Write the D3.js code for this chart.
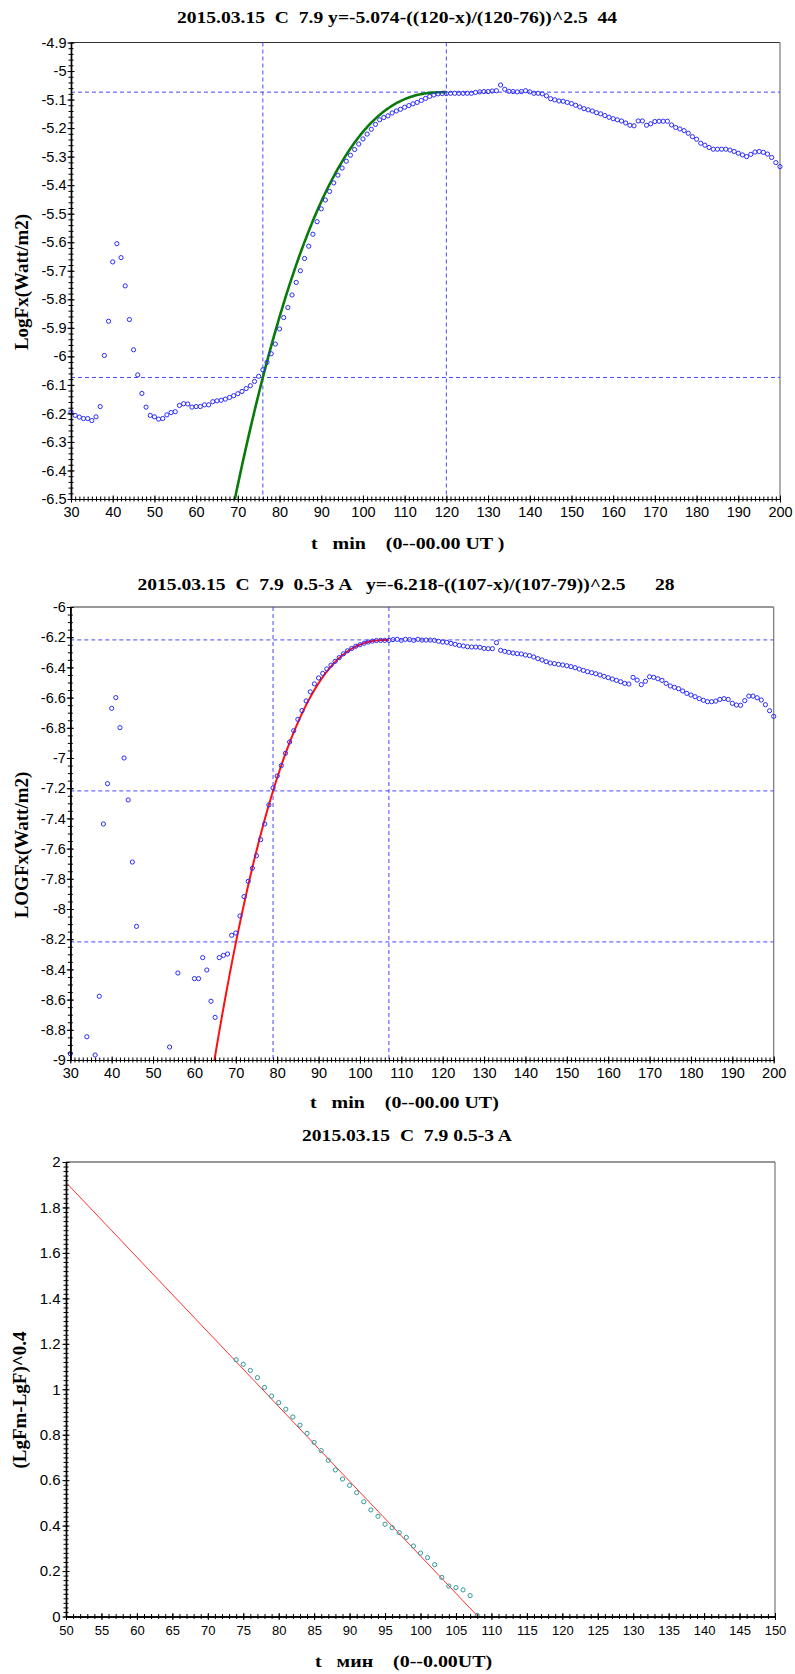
<!DOCTYPE html>
<html><head><meta charset="utf-8">
<script src="https://cdn.jsdelivr.net/npm/d3@7"></script>
<style>
body{margin:0;background:#fff;}
svg{display:block;}
text{white-space:pre;}
</style></head><body>
<svg id="c" width="795" height="1674"></svg>
<script>
// ---------- Panel 1 data ----------
const p1Title = "2015.03.15  C  7.9 y=-5.074-((120-x)/(120-76))^2.5  44";
const p1XLabel = "t   min    (0--00.00 UT )";
const p1YLabel = "LogFx(Watt/m2)";
const p1Start = 30;
const p1Values = [
-6.195,-6.207,-6.213,-6.218,-6.218,-6.225,-6.212,-6.176,-5.997,-5.877,
-5.669,-5.605,-5.654,-5.753,-5.871,-5.977,-6.065,-6.130,-6.178,-6.207,
-6.212,-6.220,-6.218,-6.205,-6.197,-6.194,-6.172,-6.166,-6.167,-6.178,
-6.176,-6.176,-6.170,-6.170,-6.159,-6.156,-6.154,-6.150,-6.144,-6.138,
-6.131,-6.123,-6.113,-6.103,-6.088,-6.070,-6.047,-6.021,-5.991,-5.957,
-5.904,-5.864,-5.829,-5.785,-5.741,-5.700,-5.657,-5.614,-5.572,-5.528,
-5.483,-5.452,-5.422,-5.392,-5.365,-5.340,-5.316,-5.295,-5.275,-5.256,
-5.238,-5.221,-5.204,-5.187,-5.171,-5.163,-5.157,-5.147,-5.140,-5.134,
-5.127,-5.121,-5.115,-5.110,-5.103,-5.096,-5.089,-5.084,-5.080,-5.079,
-5.079,-5.078,-5.078,-5.078,-5.078,-5.078,-5.078,-5.075,-5.073,-5.072,
-5.072,-5.070,-5.069,-5.049,-5.064,-5.071,-5.072,-5.073,-5.072,-5.069,
-5.073,-5.078,-5.078,-5.080,-5.087,-5.097,-5.101,-5.105,-5.106,-5.110,
-5.114,-5.120,-5.126,-5.132,-5.136,-5.140,-5.146,-5.150,-5.156,-5.162,
-5.167,-5.171,-5.175,-5.182,-5.190,-5.192,-5.175,-5.175,-5.190,-5.185,
-5.177,-5.176,-5.176,-5.176,-5.189,-5.198,-5.203,-5.209,-5.218,-5.230,
-5.239,-5.253,-5.260,-5.268,-5.274,-5.274,-5.274,-5.274,-5.277,-5.282,
-5.288,-5.294,-5.300,-5.292,-5.284,-5.282,-5.285,-5.291,-5.303,-5.321,
-5.335];
// fit: y = ym - ((tm - x)/(tm - t0))^2.5
const p1Fit = {ym: -5.074, tm: 120, t0: 76, p: 2.5};
const p1XTicks = [30,40,50,60,70,80,90,100,110,120,130,140,150,160,170,180,190,200];
const p1YTicks = [-4.9,-5,-5.1,-5.2,-5.3,-5.4,-5.5,-5.6,-5.7,-5.8,-5.9,-6,-6.1,-6.2,-6.3,-6.4,-6.5];
const p1VLines = [76, 120];
const p1HLines = [-5.074, -6.074];

// ---------- Panel 2 data ----------
const p2Title = "2015.03.15  C  7.9  0.5-3 A   y=-6.218-((107-x)/(107-79))^2.5      28";
const p2XLabel = "t   min    (0--00.00 UT)";
const p2YLabel = "LOGFx(Watt/m2)";
const p2Minutes = [30,34,36,37,38,39,40,41,42,43,44,45,46,54,56,60,61,62,63,64,65,66,67,68,69,70,
71,72,73,74,75,76,77,78,79,80,81,82,83,84,85,86,87,88,89,90,91,92,93,94,95,96,97,98,99,100,
101,102,103,104,105,106,107,108,109,110,111,112,113,114,115,116,117,118,119,120,
121,122,123,124,125,126,127,128,129,130,131,132,133,134,135,136,137,138,139,140,
141,142,143,144,145,146,147,148,149,150,151,152,153,154,155,156,157,158,159,160,
161,162,163,164,165,166,167,168,169,170,171,172,173,174,175,176,177,178,179,180,
181,182,183,184,185,186,187,188,189,190,191,192,193,194,195,196,197,198,199,200];
const p2Values = [-8.958,-8.846,-8.967,-8.578,-7.437,-7.170,-6.671,-6.600,-6.799,-7.000,-7.278,-7.689,-8.115,
-8.914,-8.424,-8.461,-8.461,-8.322,-8.404,-8.611,-8.718,-8.322,-8.307,-8.298,-8.174,-8.159,
-8.046,-7.918,-7.817,-7.730,-7.647,-7.541,-7.437,-7.311,-7.198,-7.119,-7.050,-6.969,-6.894,-6.819,
-6.744,-6.686,-6.622,-6.562,-6.509,-6.470,-6.440,-6.410,-6.385,-6.360,-6.335,-6.310,-6.290,-6.275,
-6.260,-6.250,-6.240,-6.232,-6.226,-6.222,
-6.221,-6.221,-6.221,-6.216,-6.214,-6.221,-6.214,-6.216,-6.221,-6.214,-6.219,-6.219,-6.219,-6.221,-6.227,-6.232,
-6.234,-6.241,-6.247,-6.254,-6.258,-6.263,-6.265,-6.265,-6.267,-6.274,-6.276,-6.276,-6.236,-6.287,-6.294,-6.300,
-6.305,-6.309,-6.311,-6.318,-6.322,-6.331,-6.342,-6.351,-6.362,-6.371,-6.375,-6.380,-6.384,-6.389,-6.395,-6.402,
-6.411,-6.420,-6.428,-6.435,-6.442,-6.450,-6.459,-6.468,-6.477,-6.486,-6.495,-6.506,-6.510,-6.466,-6.484,-6.514,
-6.492,-6.462,-6.466,-6.475,-6.486,-6.506,-6.523,-6.532,-6.541,-6.556,-6.572,-6.583,-6.594,-6.607,-6.618,-6.627,
-6.627,-6.623,-6.612,-6.607,-6.612,-6.638,-6.649,-6.651,-6.620,-6.590,-6.590,-6.601,-6.616,-6.647,-6.687,-6.724];
const p2Fit = {ym: -6.218, tm: 107, t0: 79, p: 2.5};
const p2XTicks = [30,40,50,60,70,80,90,100,110,120,130,140,150,160,170,180,190,200];
const p2YTicks = [-6,-6.2,-6.4,-6.6,-6.8,-7,-7.2,-7.4,-7.6,-7.8,-8,-8.2,-8.4,-8.6,-8.8,-9];
const p2VLines = [79, 107];
const p2HLines = [-6.218, -7.218, -8.218];

// ---------- Panel 3 data ----------
const p3Title = "2015.03.15  C  7.9 0.5-3 A";
const p3XLabel = "t   мин    (0--0.00UT)";
const p3YLabel = "(LgFm-LgF)^0.4";
const p3Minutes = [74,75,76,77,78,79,80,81,82,83,84,85,86,87,88,89,90,91,92,93,94,95,96,97,98,99,100,101,102,103,104,105,106,107,108];
const p3Values = [1.130,1.110,1.083,1.051,1.008,0.970,0.941,0.912,0.878,0.842,0.806,0.766,0.730,0.687,0.645,0.605,
0.577,0.545,0.505,0.469,0.441,0.406,0.391,0.369,0.348,0.310,0.279,0.259,0.228,0.172,0.134,0.127,0.117,0.092,0.005];
const p3LineT = [50, 108.1];
const p3LineV = [1.910, 0];
const p3XTicks = [50,55,60,65,70,75,80,85,90,95,100,105,110,115,120,125,130,135,140,145,150];
const p3YTicks = [0,0.2,0.4,0.6,0.8,1,1.2,1.4,1.6,1.8,2];

// ---------- drawing ----------
const svg = d3.select('#c');
const SERIF = '"Liberation Serif","Times New Roman",serif';
const SANS = '"Liberation Sans",Arial,sans-serif';
const BLUE = '#2b2bff';
const DASH = '#4848ff';

function minorVals(a, b, step){
  const n = Math.round((b - a) / step);
  return d3.range(n + 1).map(i => +(a + i * step).toFixed(4));
}

function panel(c){
  const g = svg.append('g');
  const x = d3.scaleLinear().domain(c.xDom).range([c.L, c.R]);
  const y = d3.scaleLinear().domain(c.yDom).range([c.B, c.T]);
  const clipId = 'clip' + c.id;
  svg.append('clipPath').attr('id', clipId).append('rect')
    .attr('x', c.L).attr('y', c.T).attr('width', c.R - c.L).attr('height', c.B - c.T);

  // frame top/right
  g.append('line').attr('x1', c.L).attr('x2', c.R).attr('y1', c.T).attr('y2', c.T)
    .attr('stroke', '#333').attr('stroke-width', 1.2);
  g.append('line').attr('x1', c.R).attr('x2', c.R).attr('y1', c.T).attr('y2', c.B)
    .attr('stroke', '#777').attr('stroke-width', 1.2);

  // reference lines
  (c.vLines || []).forEach(v => g.append('line').attr('x1', x(v)).attr('x2', x(v))
    .attr('y1', c.T).attr('y2', c.B).attr('stroke', DASH).attr('stroke-width', 1).attr('stroke-dasharray', '4,3'));
  (c.hLines || []).forEach(v => g.append('line').attr('x1', c.L).attr('x2', c.R)
    .attr('y1', y(v)).attr('y2', y(v)).attr('stroke', DASH).attr('stroke-width', 1).attr('stroke-dasharray', '4,3'));

  const pg = g.append('g').attr('clip-path', `url(#${clipId})`);
  // points
  g.append('g').selectAll('circle').data(c.pts).join('circle')
    .attr('cx', d => x(d[0])).attr('cy', d => y(d[1])).attr('r', 2.1)
    .attr('fill', 'none').attr('stroke', c.ptColor).attr('stroke-width', 1);
  // curve
  if (c.curve) {
    pg.append('path').datum(c.curve)
      .attr('d', d3.line().x(d => x(d[0])).y(d => y(d[1])))
      .attr('fill', 'none').attr('stroke', c.curveColor).attr('stroke-width', c.curveWidth);
  }

  // axes: minor ticks crossing
  const xm = minorVals(c.xDom[0], c.xDom[1], c.xMinor);
  const ym = minorVals(Math.min(...c.yDom), Math.max(...c.yDom), c.yMinor);
  const axB = g.append('g').attr('transform', `translate(0,${c.B})`);
  axB.call(d3.axisBottom(x).tickValues(xm).tickSize(2.5).tickSizeOuter(0).tickFormat(''));
  const axB2 = g.append('g').attr('transform', `translate(0,${c.B})`);
  axB2.call(d3.axisTop(x).tickValues(xm).tickSize(2.5).tickSizeOuter(0).tickFormat(''));
  const axBM = g.append('g').attr('transform', `translate(0,${c.B})`);
  axBM.call(d3.axisBottom(x).tickValues(c.xTicks).tickSize(3.5).tickSizeOuter(0).tickPadding(c.xPad)
    .tickFormat(d3.format('d')));
  const axBM2 = g.append('g').attr('transform', `translate(0,${c.B})`);
  axBM2.call(d3.axisTop(x).tickValues(c.xTicks).tickSize(3.5).tickSizeOuter(0).tickFormat(''));

  const axL = g.append('g').attr('transform', `translate(${c.L},0)`);
  axL.call(d3.axisLeft(y).tickValues(ym).tickSize(2.5).tickSizeOuter(0).tickFormat(''));
  const axL2 = g.append('g').attr('transform', `translate(${c.L},0)`);
  axL2.call(d3.axisRight(y).tickValues(ym).tickSize(2.5).tickSizeOuter(0).tickFormat(''));
  const axLM = g.append('g').attr('transform', `translate(${c.L},0)`);
  axLM.call(d3.axisLeft(y).tickValues(c.yTicks).tickSize(3.5).tickSizeOuter(0).tickPadding(c.yPad)
    .tickFormat(d => String(+d.toFixed(2))));
  const axLM2 = g.append('g').attr('transform', `translate(${c.L},0)`);
  axLM2.call(d3.axisRight(y).tickValues(c.yTicks).tickSize(3.5).tickSizeOuter(0).tickFormat(''));

  g.selectAll('.domain').attr('stroke', '#000').attr('stroke-width', 1.2);
  g.selectAll('.tick line').attr('stroke', '#000').attr('stroke-width', 1);
  axBM.selectAll('text').attr('font-family', SANS).attr('font-size', c.xFont).attr('fill', '#000');
  axLM.selectAll('text').attr('font-family', SANS).attr('font-size', c.yFont).attr('fill', '#000');

  // titles (slightly widened serif, like the original raster)
  svg.append('text').attr('transform', `translate(${c.titleX},${c.titleY}) scale(1.12,1)`)
    .attr('text-anchor', 'middle')
    .attr('font-family', SERIF).attr('font-weight', 'bold').attr('font-size', 17.5).text(c.title);
  svg.append('text').attr('transform', `translate(${c.xlabX},${c.xlabY}) scale(1.14,1)`)
    .attr('text-anchor', 'start')
    .attr('font-family', SERIF).attr('font-weight', 'bold').attr('font-size', 17.5).text(c.xLabel);
  svg.append('text').attr('transform', `translate(${c.ylabX},${c.ylabY}) rotate(-90)`)
    .attr('text-anchor', 'middle').attr('font-family', SERIF).attr('font-weight', 'bold')
    .attr('font-size', 19).text(c.yLabel);
}

function fitCurve(f, xLo){
  const xs = d3.range(xLo, f.tm + 0.001, 0.25);
  return xs.map(t => [t, f.ym - Math.pow((f.tm - t) / (f.tm - f.t0), f.p)]);
}

panel({
  id: 1, L: 71, R: 780, T: 42.5, B: 499, xDom: [30, 200], yDom: [-6.5, -4.9],
  xTicks: p1XTicks, yTicks: p1YTicks, xMinor: 1, yMinor: 0.02, xPad: 4, yPad: 1, xFont: 14.5, yFont: 14.5,
  vLines: p1VLines, hLines: p1HLines,
  pts: p1Values.map((v, i) => [p1Start + i, v]), ptColor: BLUE,
  curve: fitCurve(p1Fit, 68), curveColor: '#0a7a0a', curveWidth: 2.6,
  title: p1Title, titleX: 397, titleY: 23,
  xLabel: p1XLabel, xlabX: 311, xlabY: 549,
  yLabel: p1YLabel, ylabX: 28, ylabY: 282
});

panel({
  id: 2, L: 70.3, R: 773.7, T: 607, B: 1060, xDom: [30, 200], yDom: [-9, -6],
  xTicks: p2XTicks, yTicks: p2YTicks, xMinor: 1, yMinor: 0.05, xPad: 4, yPad: 1, xFont: 14.5, yFont: 14.5,
  vLines: p2VLines, hLines: p2HLines,
  pts: p2Minutes.map((m, i) => [m, p2Values[i]]), ptColor: BLUE,
  curve: fitCurve(p2Fit, 64), curveColor: '#ff1010', curveWidth: 2,
  title: p2Title, titleX: 406, titleY: 590,
  xLabel: p2XLabel, xlabX: 310, xlabY: 1108,
  yLabel: p2YLabel, ylabX: 28, ylabY: 845
});

panel({
  id: 3, L: 66, R: 775, T: 1162, B: 1616.5, xDom: [50, 150], yDom: [0, 2],
  xTicks: p3XTicks, yTicks: p3YTicks, xMinor: 1, yMinor: 0.02, xPad: 6, yPad: 2, xFont: 13, yFont: 15,
  pts: p3Minutes.map((m, i) => [m, p3Values[i]]), ptColor: '#2f9a9a',
  curve: p3LineT.map((t, i) => [t, p3LineV[i]]), curveColor: '#ff3030', curveWidth: 1,
  title: p3Title, titleX: 407, titleY: 1141,
  xLabel: p3XLabel, xlabX: 315, xlabY: 1667,
  yLabel: p3YLabel, ylabX: 26, ylabY: 1400
});
</script>
</body></html>
